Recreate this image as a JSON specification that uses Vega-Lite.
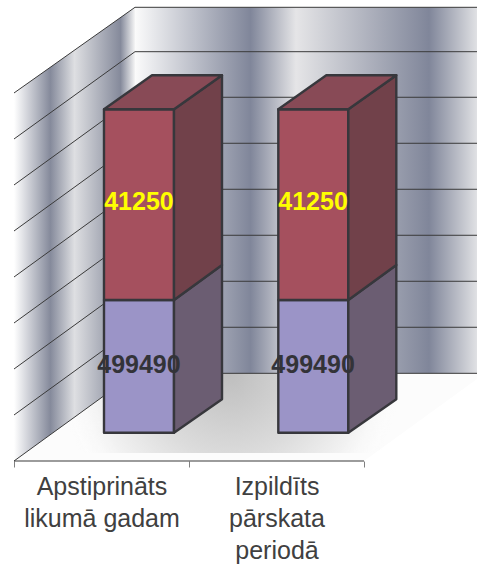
{"$schema":"https://vega.github.io/schema/vega-lite/v6.json","width":477,"height":564,"autosize":"none","padding":0,"background":"white","config":{"view":{"stroke":null}},
"datasets":{
"back":[{"x":0.6914,"y":1.906,"y2":9.863},{"x":2.6914,"y":1.906,"y2":9.863}],
"left":[{"x":0,"y":0,"y2":8},{"x":0.6914,"y":1.906,"y2":9.863}],
"floor":[{"x":0,"y":0,"y2":0},{"x":0.6914,"y":0,"y2":1.906},{"x":2,"y":0,"y2":1.906},{"x":2.6914,"y":1.906,"y2":1.906}],
"shadow":[{"x":0.263,"y":0.174,"y2":3.652},{"x":2.206,"y":0.174,"y2":3.652}],
"base":[{"x":0,"y":0},{"x":2,"y":0}],
"grid":[
{"g":"b1","x":0.6914,"y":1.906},{"g":"b1","x":2.6914,"y":1.906},
{"g":"b2","x":0.6914,"y":2.907},{"g":"b2","x":2.6914,"y":2.907},
{"g":"b3","x":0.6914,"y":3.907},{"g":"b3","x":2.6914,"y":3.907},
{"g":"b4","x":0.6914,"y":4.907},{"g":"b4","x":2.6914,"y":4.907},
{"g":"b5","x":0.6914,"y":5.907},{"g":"b5","x":2.6914,"y":5.907},
{"g":"b6","x":0.6914,"y":6.907},{"g":"b6","x":2.6914,"y":6.907},
{"g":"b7","x":0.6914,"y":7.907},{"g":"b7","x":2.6914,"y":7.907},
{"g":"b8","x":0.6914,"y":8.898},{"g":"b8","x":2.6914,"y":8.898},
{"g":"b9","x":0.6914,"y":9.863},{"g":"b9","x":2.6914,"y":9.863},
{"g":"l1","x":0,"y":0},{"g":"l1","x":0.6914,"y":1.906},
{"g":"l2","x":0,"y":1},{"g":"l2","x":0.6914,"y":2.907},
{"g":"l3","x":0,"y":2},{"g":"l3","x":0.6914,"y":3.907},
{"g":"l4","x":0,"y":3},{"g":"l4","x":0.6914,"y":4.907},
{"g":"l5","x":0,"y":4},{"g":"l5","x":0.6914,"y":5.907},
{"g":"l6","x":0,"y":5},{"g":"l6","x":0.6914,"y":6.907},
{"g":"l7","x":0,"y":6},{"g":"l7","x":0.6914,"y":7.907},
{"g":"l8","x":0,"y":7},{"g":"l8","x":0.6914,"y":8.898},
{"g":"l9","x":0,"y":8},{"g":"l9","x":0.6914,"y":9.863}],
"faces":[
{"id":"1fl","kind":"front lower","x":0.5143,"y":0.615,"y2":3.5},{"id":"1fl","kind":"front lower","x":0.9143,"y":0.615,"y2":3.5},
{"id":"1fu","kind":"front upper","x":0.5143,"y":3.5,"y2":7.646},{"id":"1fu","kind":"front upper","x":0.9143,"y":3.5,"y2":7.646},
{"id":"1sl","kind":"side lower","x":0.9143,"y":0.615,"y2":3.5},{"id":"1sl","kind":"side lower","x":1.1886,"y":1.341,"y2":4.26},
{"id":"1su","kind":"side upper","x":0.9143,"y":3.5,"y2":7.646},{"id":"1su","kind":"side upper","x":1.1886,"y":4.26,"y2":8.385},
{"id":"1t","kind":"top","x":0.5143,"y":7.646,"y2":7.646},{"id":"1t","kind":"top","x":0.7886,"y":7.646,"y2":8.385},{"id":"1t","kind":"top","x":0.9143,"y":7.646,"y2":8.385},{"id":"1t","kind":"top","x":1.1886,"y":8.385,"y2":8.385},
{"id":"2fl","kind":"front lower","x":1.5103,"y":0.615,"y2":3.5},{"id":"2fl","kind":"front lower","x":1.9103,"y":0.615,"y2":3.5},
{"id":"2fu","kind":"front upper","x":1.5103,"y":3.5,"y2":7.646},{"id":"2fu","kind":"front upper","x":1.9103,"y":3.5,"y2":7.646},
{"id":"2sl","kind":"side lower","x":1.9103,"y":0.615,"y2":3.5},{"id":"2sl","kind":"side lower","x":2.1846,"y":1.341,"y2":4.26},
{"id":"2su","kind":"side upper","x":1.9103,"y":3.5,"y2":7.646},{"id":"2su","kind":"side upper","x":2.1846,"y":4.26,"y2":8.385},
{"id":"2t","kind":"top","x":1.5103,"y":7.646,"y2":7.646},{"id":"2t","kind":"top","x":1.7846,"y":7.646,"y2":8.385},{"id":"2t","kind":"top","x":1.9103,"y":7.646,"y2":8.385},{"id":"2t","kind":"top","x":2.1846,"y":8.385,"y2":8.385}],
"labels":[
{"x":0.714,"y":5.63,"label":"41250","series":"upper"},{"x":1.709,"y":5.63,"label":"41250","series":"upper"},
{"x":0.714,"y":2.09,"label":"499490","series":"lower"},{"x":1.709,"y":2.09,"label":"499490","series":"lower"}]
},
"encoding":{
"x":{"field":"x","type":"quantitative","scale":{"domain":[-0.08,2.6457],"nice":false,"zero":false},
 "axis":{"title":null,"orient":"bottom","offset":-103,"grid":false,"domain":false,"values":[0,0.5,1,1.5,2],"ticks":true,"tickColor":"#808080","tickWidth":1,
 "tickSize":{"condition":{"test":"datum.value%1==0","value":6},"value":0},
 "labelExpr":"datum.value==0.5?['Apstiprināts','likumā gadam']:datum.value==1.5?['Izpildīts','pārskata','periodā']:''",
 "labelFont":"Liberation Sans","labelFontSize":25,"labelColor":"#404040","labelBaseline":"top","labelLineHeight":32,"labelPadding":13,"labelOverlap":false,"labelFlush":false,"labelBound":false}},
"y":{"field":"y","type":"quantitative","scale":{"domain":[-2.2391,10.0217],"nice":false,"zero":false},"axis":null}
},
"layer":[
{"data":{"name":"floor"},"mark":{"type":"area","clip":true,"color":"#fcfcfc"},"encoding":{"y2":{"field":"y2"}}},
{"data":{"name":"shadow"},"mark":{"type":"area","color":{"gradient":"radial","x1":0.5,"y1":0.5,"r1":0,"x2":0.5,"y2":0.5,"r2":0.5,"stops":[{"offset":0,"color":"#bebebe"},{"offset":0.5,"color":"#dcdcdc"},{"offset":0.8,"color":"#f2f2f2"},{"offset":1,"color":"rgba(252,252,252,0)"}]}},"encoding":{"y2":{"field":"y2"}}},
{"data":{"name":"back"},"mark":{"type":"area","clip":true,"color":{"gradient":"linear","x1":0,"y1":0,"x2":1,"y2":0,"stops":[{"offset":0,"color":"#fbfbfb"},{"offset":0.33,"color":"#80869a"},{"offset":0.46,"color":"#e5e5e7"},{"offset":0.84,"color":"#80869a"},{"offset":1,"color":"#f0f0f0"}]}},"encoding":{"y2":{"field":"y2"}}},
{"data":{"name":"left"},"mark":{"type":"area","color":{"gradient":"linear","x1":0,"y1":0,"x2":1,"y2":0,"stops":[{"offset":0,"color":"#ffffff"},{"offset":0.3,"color":"#858a9b"},{"offset":0.5,"color":"#dedfe2"},{"offset":0.88,"color":"#858a9b"},{"offset":1,"color":"#f5f5f5"}]}},"encoding":{"y2":{"field":"y2"}}},
{"data":{"name":"grid"},"mark":{"type":"line","clip":true,"color":"#3a3a3a","strokeWidth":1},"encoding":{"detail":{"field":"g"}}},
{"data":{"name":"base"},"mark":{"type":"line","color":"#3a3a3a","strokeWidth":1},"encoding":{}},
{"data":{"name":"faces"},"mark":{"type":"area","stroke":"#37373c","strokeWidth":2.4,"strokeJoin":"round"},"encoding":{"y2":{"field":"y2"},"detail":{"field":"id"},"color":{"field":"kind","type":"nominal","legend":null,"scale":{"domain":["front lower","front upper","side lower","side upper","top"],"range":["#9b94c7","#a5505e","#6b5d72","#71414a","#884a56"]}}}},
{"data":{"name":"labels"},"mark":{"type":"text","font":"Liberation Sans","fontWeight":"bold","fontSize":25,"align":"center","baseline":"middle"},"encoding":{"text":{"field":"label"},"color":{"field":"series","type":"nominal","legend":null,"scale":{"domain":["upper","lower"],"range":["#ffff00","#333338"]}}}}
],
"resolve":{"scale":{"color":"independent"}}
}
